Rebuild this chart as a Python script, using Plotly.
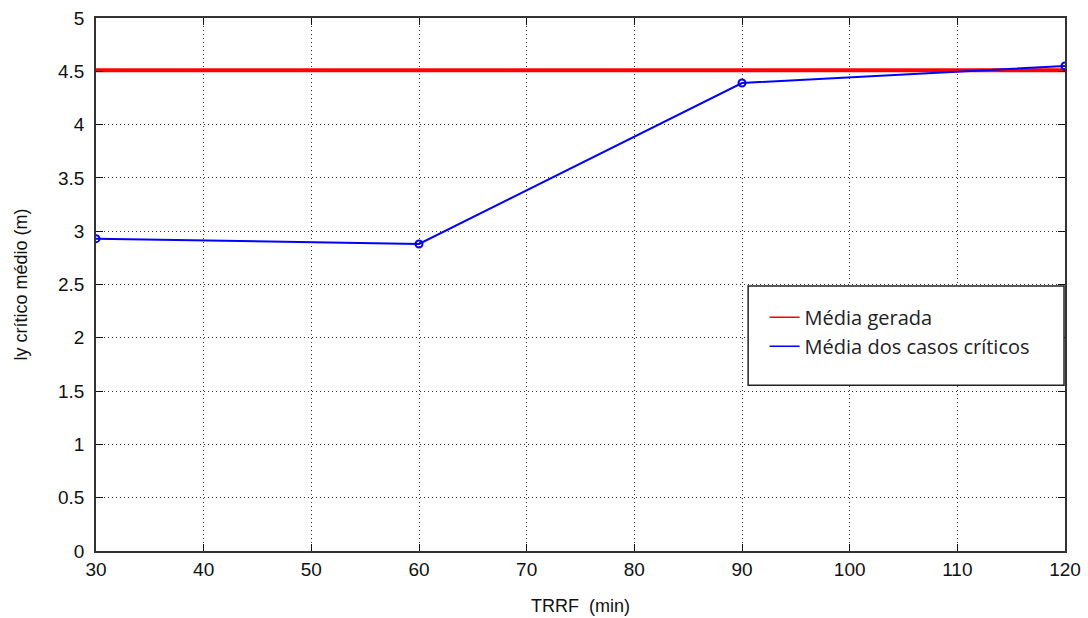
import plotly.graph_objects as go

# TRRF values (min) and mean critical ly (m)
trrf = [30, 60, 90, 120]
ly_criticos = [2.93, 2.88, 4.39, 4.55]
media_gerada = 4.51

x_ticks = [30, 40, 50, 60, 70, 80, 90, 100, 110, 120]
y_ticks = [0, 0.5, 1, 1.5, 2, 2.5, 3, 3.5, 4, 4.5, 5]
y_tick_labels = ["0", "0.5", "1", "1.5", "2", "2.5", "3", "3.5", "4", "4.5", "5"]

RED = "#ff0000"
BLUE = "#0000ff"
FONT = "Liberation Sans, Arial, sans-serif"

fig = go.Figure()

fig.add_trace(go.Scatter(
    x=[trrf[0], trrf[-1]], y=[media_gerada, media_gerada],
    mode="lines", name="Média gerada", showlegend=False,
    line=dict(color=RED, width=4),
))
fig.add_trace(go.Scatter(
    x=trrf, y=ly_criticos,
    mode="lines+markers", name="Média dos casos críticos", showlegend=False,
    line=dict(color=BLUE, width=2),
    marker=dict(symbol="circle-open", size=7, color=BLUE, line=dict(width=2)),
))

# legend entries drawn as plain thin lines
fig.add_trace(go.Scatter(x=[None], y=[None], mode="lines", name="Média gerada",
                         line=dict(color=RED, width=1.5)))
fig.add_trace(go.Scatter(x=[None], y=[None], mode="lines", name="Média dos casos críticos",
                         line=dict(color=BLUE, width=1.5)))

axis_common = dict(
    showgrid=True, gridcolor="#333333", griddash="1px,3px", gridwidth=1.2,
    showline=True, linecolor="#333333", linewidth=1.5, mirror="ticks",
    ticks="inside", ticklen=7, tickcolor="#111111", tickwidth=1.2,
    zeroline=False, automargin=False,
    tickfont=dict(family=FONT, size=19, color="#111111"),
)

fig.update_xaxes(
    range=[30, 120], tickvals=x_ticks,
    title=dict(text="TRRF  (min)", font=dict(family=FONT, size=18, color="#111111"),
               standoff=21),
    **axis_common,
)
fig.update_yaxes(
    range=[0, 5], tickvals=y_ticks, ticktext=y_tick_labels,
    ticklabelstandoff=6,
    title=dict(text="ly crítico médio (m)", font=dict(family=FONT, size=18, color="#111111"),
               standoff=26),
    **axis_common,
)

# legend frame
fig.add_shape(
    type="rect", xref="paper", yref="paper",
    x0=0.673, x1=0.999, y0=0.311, y1=0.497,
    line=dict(color="#222222", width=1.5), fillcolor="white", layer="above",
)

fig.update_layout(
    width=1088, height=618,
    margin=dict(l=96, r=23, t=18, b=67),
    paper_bgcolor="white", plot_bgcolor="white",
    showlegend=True,
    legend=dict(
        x=0.69, y=0.475, xanchor="left", yanchor="top",
        bgcolor="rgba(0,0,0,0)", borderwidth=0,
        font=dict(family="Open Sans, Lato", size=20, color="#222222"),
        itemwidth=30, tracegroupgap=0,
    ),
)

fig.write_html("out.html")
